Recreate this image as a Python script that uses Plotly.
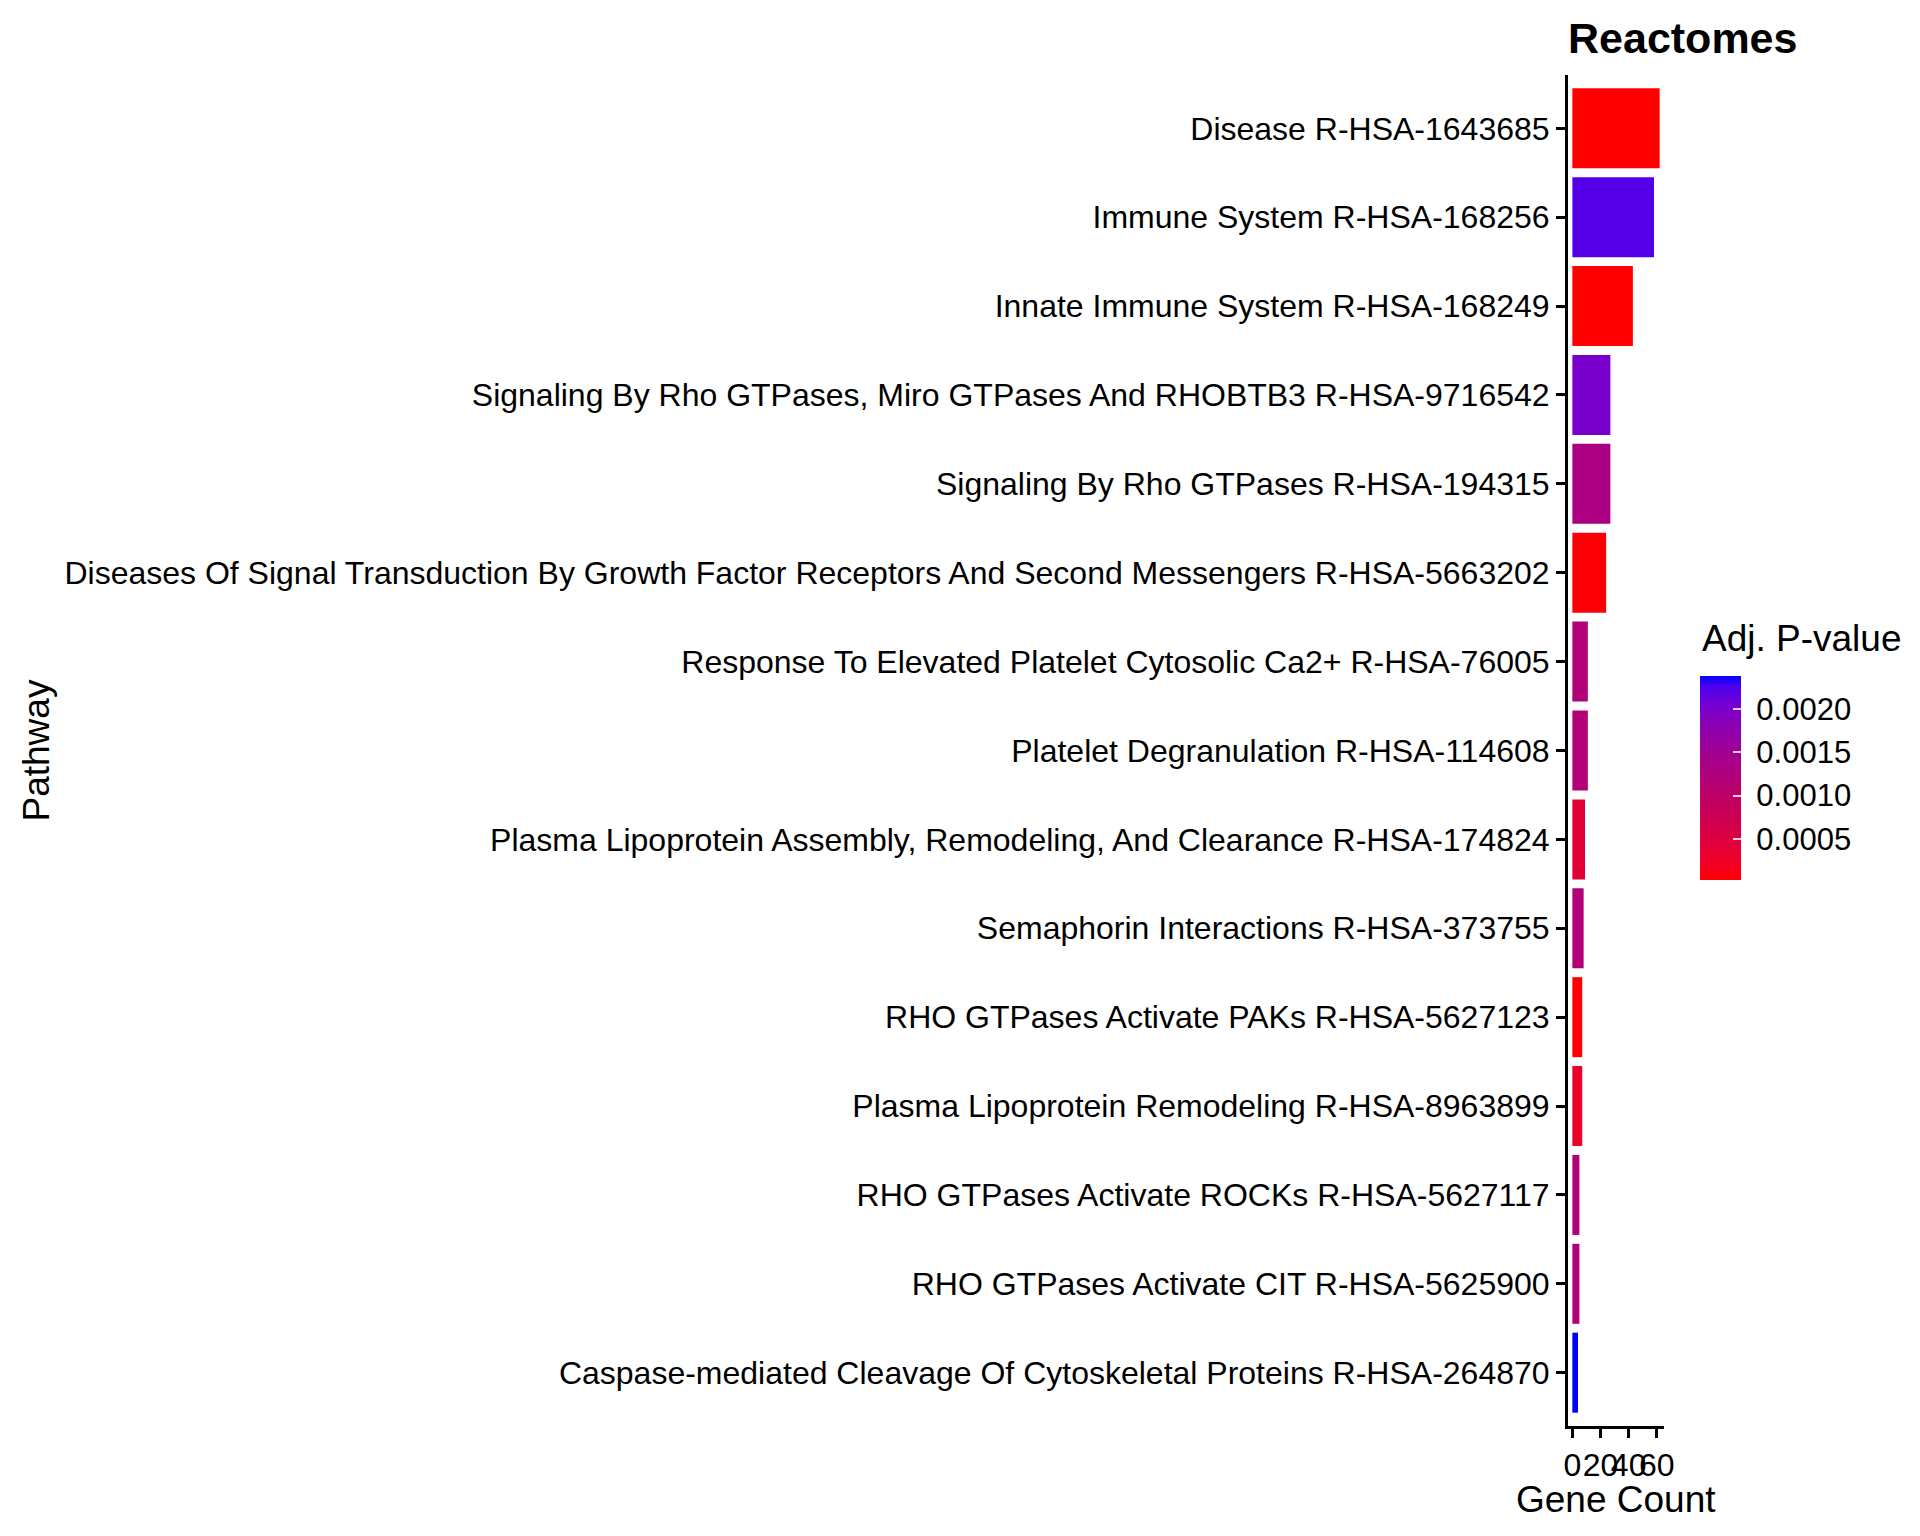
import math
import plotly.graph_objects as go

pathways = [
    "Disease R-HSA-1643685",
    "Immune System R-HSA-168256",
    "Innate Immune System R-HSA-168249",
    "Signaling By Rho GTPases, Miro GTPases And RHOBTB3 R-HSA-9716542",
    "Signaling By Rho GTPases R-HSA-194315",
    "Diseases Of Signal Transduction By Growth Factor Receptors And Second Messengers R-HSA-5663202",
    "Response To Elevated Platelet Cytosolic Ca2+ R-HSA-76005",
    "Platelet Degranulation R-HSA-114608",
    "Plasma Lipoprotein Assembly, Remodeling, And Clearance R-HSA-174824",
    "Semaphorin Interactions R-HSA-373755",
    "RHO GTPases Activate PAKs R-HSA-5627123",
    "Plasma Lipoprotein Remodeling R-HSA-8963899",
    "RHO GTPases Activate ROCKs R-HSA-5627117",
    "RHO GTPases Activate CIT R-HSA-5625900",
    "Caspase-mediated Cleavage Of Cytoskeletal Proteins R-HSA-264870",
]
gene_count = [62, 58, 43, 27, 27, 24, 11, 11, 9, 8, 7, 7, 5, 5, 4]
adj_p = [0.000024, 0.00222, 0.00003, 0.00200, 0.00132, 0.00005, 0.00120, 0.00120,
         0.00042, 0.00120, 0.00004, 0.00026, 0.00120, 0.00120, 0.00238]

x_ticks = [0, 20, 40, 60]
p_ticks = [0.0005, 0.0010, 0.0015, 0.0020]

FONT = "Liberation Sans, Arial, Helvetica, sans-serif"


# red -> blue gradient interpolated in Lab space (like ggplot's scale_fill_gradient)
def to_lin(c):
    return c / 12.92 if c <= 0.04045 else ((c + 0.055) / 1.055) ** 2.4


def to_srgb(c):
    c = max(0.0, min(1.0, c))
    return 12.92 * c if c <= 0.0031308 else 1.055 * c ** (1 / 2.4) - 0.055


def rgb_to_lab(rgb):
    r, g, b = [to_lin(v / 255) for v in rgb]
    x = (0.4124 * r + 0.3576 * g + 0.1805 * b) / 0.95047
    y = 0.2126 * r + 0.7152 * g + 0.0722 * b
    z = (0.0193 * r + 0.1192 * g + 0.9505 * b) / 1.08883
    f = lambda t: t ** (1 / 3) if t > 0.008856 else 7.787 * t + 16 / 116
    return 116 * f(y) - 16, 500 * (f(x) - f(y)), 200 * (f(y) - f(z))


def lab_to_rgb(lab):
    L, a, bb = lab
    fy = (L + 16) / 116
    fx = fy + a / 500
    fz = fy - bb / 200
    inv = lambda t: t ** 3 if t ** 3 > 0.008856 else (t - 16 / 116) / 7.787
    x, y, z = inv(fx) * 0.95047, inv(fy), inv(fz) * 1.08883
    r = 3.2406 * x - 1.5372 * y - 0.4986 * z
    g = -0.9689 * x + 1.8758 * y + 0.0415 * z
    b = 0.0557 * x - 0.2040 * y + 1.0570 * z
    return [to_srgb(v) * 255 for v in (r, g, b)]


lo, hi = rgb_to_lab((255, 0, 0)), rgb_to_lab((0, 0, 255))
colorscale = []
for i in range(21):
    t = i / 20
    lab = tuple(lo[k] + (hi[k] - lo[k]) * t for k in range(3))
    # mid tones in the reference render a bit darker
    shade = 1 - 0.12 * math.sin(math.pi * t)
    r, g, b = [round(v * shade) for v in lab_to_rgb(lab)]
    colorscale.append([t, "rgb(%d,%d,%d)" % (r, g, b)])

fig = go.Figure(go.Bar(
    x=gene_count,
    y=pathways,
    orientation="h",
    marker=dict(
        color=adj_p,
        colorscale=colorscale,
        cmin=min(adj_p),
        cmax=max(adj_p),
        line=dict(width=0),
        colorbar=dict(
            tickvals=p_ticks,
            ticktext=["\u00a0%.4f" % v for v in p_ticks],
            tickfont=dict(size=31, family=FONT, color="black"),
            ticks="inside",
            ticklen=8,
            tickwidth=1.5,
            tickcolor="rgba(255,255,255,0.8)",
            thickness=41,
            lenmode="pixels",
            len=204,
            x=1.375,
            xanchor="left",
            y=0.4041,
            yanchor="bottom",
            outlinewidth=0,
            xpad=0,
            ypad=0,
        ),
    ),
))

fig.update_layout(
    width=1920,
    height=1536,
    margin=dict(l=1560, r=264, t=67, b=118),
    paper_bgcolor="white",
    plot_bgcolor="white",
    bargap=0.1,
    showlegend=False,
    font=dict(family=FONT, color="black"),
    title=dict(
        text="<b>Reactomes</b>",
        font=dict(size=43, family=FONT, color="black"),
        xref="paper", x=0.0, xanchor="left",
        yref="container", y=1 - 30 / 1536, yanchor="middle",
    ),
    xaxis=dict(
        range=[-3.1, 65.1],
        tickvals=x_ticks,
        tickangle=0,
        tickfont=dict(size=32, family=FONT, color="black"),
        ticks="outside", ticklen=9, tickwidth=2.5, tickcolor="black",
        showline=True, linewidth=3, linecolor="black",
        showgrid=False, zeroline=False,
    ),
    yaxis=dict(
        range=[14.6, -0.6],
        tickfont=dict(size=32, family=FONT, color="black"),
        ticks="outside", ticklen=9, tickwidth=2.5, tickcolor="black",
        showline=True, linewidth=3, linecolor="black",
        showgrid=False, zeroline=False,
    ),
    annotations=[
        dict(
            text="Pathway", textangle=-90,
            xref="paper", x=(28 - 1560) / 96, xanchor="center",
            yref="paper", y=0.5, yanchor="middle",
            showarrow=False,
            font=dict(size=37, family=FONT, color="black"),
        ),
        dict(
            text="Gene Count",
            xref="paper", x=0.5, xanchor="center",
            yref="paper", y=(1418 - 1491) / 1351, yanchor="middle",
            showarrow=False,
            font=dict(size=37, family=FONT, color="black"),
        ),
        dict(
            text="Adj. P-value",
            xref="paper", x=1.375, xanchor="left",
            yref="paper", y=0.5663, yanchor="bottom",
            showarrow=False,
            font=dict(size=37, family=FONT, color="black"),
        ),
    ],
)

fig.write_html("out.html")
